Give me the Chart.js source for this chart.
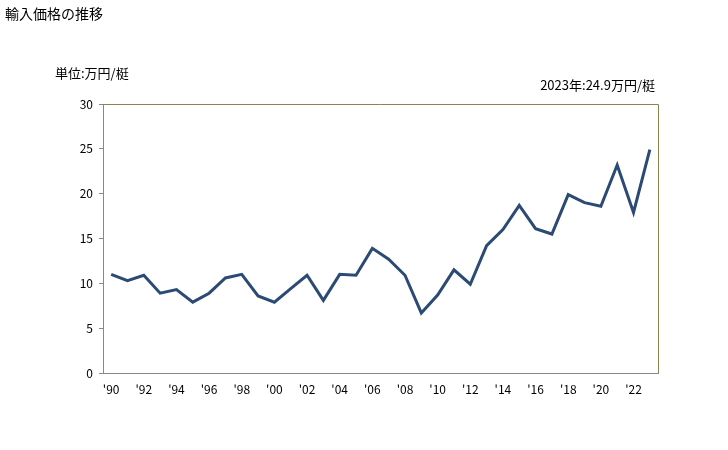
<!DOCTYPE html>
<html>
<head>
<meta charset="utf-8">
<script src="https://cdn.jsdelivr.net/npm/chart.js@4"></script>
<style>
  body { margin: 0; background: #fff; font-family: "Noto Sans CJK JP", sans-serif; }
  #wrap { position: relative; width: 728px; height: 450px; }
  .txt { position: absolute; font-size: 13px; color: #000; white-space: nowrap; }
</style>
</head>
<body>
<div id="wrap">
  <canvas id="chart" width="728" height="450"></canvas>
  <div class="txt" style="left:5px; top:3px; font-size:14px;">輸入価格の推移</div>
  <div class="txt" style="left:55px; top:63px;">単位:万円/梃</div>
  <div class="txt" style="right:73px; top:75px;">2023年:24.9万円/梃</div>
</div>
<script>
const years = [];
for (let y = 1990; y <= 2023; y++) years.push(y);
const yearLabels = years.map(y => "'" + String(y).slice(2));

const prices = [11.0, 10.3, 10.9, 8.9, 9.3, 7.9, 8.9, 10.6, 11.0, 8.6,
                7.9, 9.4, 10.9, 8.1, 11.0, 10.9, 13.9, 12.7, 10.9, 6.7,
                8.7, 11.5, 9.9, 14.2, 16.0, 18.7, 16.1, 15.5, 19.9, 19.0,
                18.6, 23.2, 17.9, 24.9];

const yTicks = [0, 5, 10, 15, 20, 25, 30];

// top/right frame in olive
const framePlugin = {
    id: 'frame',
    afterDraw(chart) {
        const a = chart.chartArea;
        const ctx = chart.ctx;
        ctx.save();
        ctx.strokeStyle = '#8c8450';
        ctx.lineWidth = 1;
        ctx.beginPath();
        ctx.moveTo(a.left, a.top + 0.5);
        ctx.lineTo(a.right + 0.5, a.top + 0.5);
        ctx.lineTo(a.right + 0.5, a.bottom);
        ctx.stroke();
        ctx.restore();
    }
};

const ctx = document.getElementById('chart').getContext('2d');
const myChart = new Chart(ctx, {
    type: 'line',
    data: {
        labels: yearLabels,
        datasets: [{
            data: prices,
            borderColor: '#2b4a74',
            borderWidth: 3,
            pointRadius: 0,
            tension: 0,
            fill: false
        }]
    },
    options: {
        responsive: false,
        animation: false,
        layout: { padding: { left: 0, top: 104, right: 70, bottom: 0 } },
        plugins: {
            legend: { display: false },
            tooltip: { enabled: false }
        },
        scales: {
            x: {
                offset: true,
                grid: { display: false, drawTicks: false },
                border: { display: true, color: '#888888', width: 1 },
                ticks: {
                    autoSkip: false,
                    maxRotation: 0,
                    padding: 9,
                    color: '#000',
                    font: { size: 12, family: 'Noto Sans CJK JP' },
                    callback: function (val, i) { return i % 2 === 0 ? yearLabels[i] : ''; }
                },
                afterFit(scale) { scale.height = 77; }
            },
            y: {
                min: 0,
                max: 30,
                afterBuildTicks(scale) { scale.ticks = yTicks.map(v => ({ value: v })); },
                grid: { drawOnChartArea: false, drawTicks: true, tickLength: 4, color: '#888888' },
                border: { display: true, color: '#888888', width: 1 },
                ticks: {
                    padding: 6,
                    color: '#000',
                    font: { size: 12, family: 'Noto Sans CJK JP' }
                },
                afterFit(scale) { scale.width = 103; }
            }
        }
    },
    plugins: [framePlugin]
});
</script>
</body>
</html>
